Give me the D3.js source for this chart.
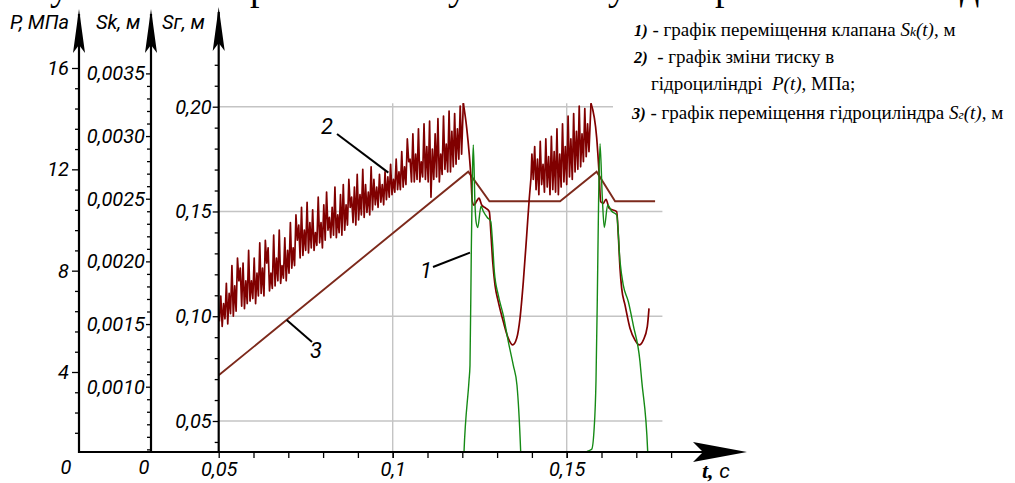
<!DOCTYPE html>
<html><head><meta charset="utf-8">
<script src="https://cdn.jsdelivr.net/npm/d3@7"></script>
<style>body{margin:0;background:#fff}svg{display:block}</style>
</head><body>
<script>
// ---------- data ----------
const pMajor = [4, 8, 12, 16];
const pLabels = ["4", "8", "12", "16"];
const skMajor = [0.0010, 0.0015, 0.0020, 0.0025, 0.0030, 0.0035];
const skLabels = ["0,0010", "0,0015", "0,0020", "0,0025", "0,0030", "0,0035"];
const sgMajor = [0.05, 0.10, 0.15, 0.20];
const sgLabels = ["0,05", "0,10", "0,15", "0,20"];
const tMajor = [0.05, 0.1, 0.15];
const tLabels = ["0,05", "0,1", "0,15"];
const tGrid = [0.1, 0.15];

// curve 2: P(t), MPa — noisy build-up 1 (samples every 0.0004 s from 0.0502 s)
const pNoiseStep = 0.0004;
const pNoise1Start = 0.0502;
const pNoise1 = [
 6.0, 7.0, 5.8, 6.7, 6.1, 7.5, 5.9, 7.1, 6.3, 8.2,
 6.2, 7.4, 6.4, 8.5, 7.6, 8.1, 6.6, 8.3, 6.5, 7.6,
 6.7, 8.8, 6.8, 7.6, 6.9, 8.5, 6.7, 7.9, 7.0, 9.1,
 7.1, 8.1, 7.0, 9.2, 8.3, 8.9, 7.2, 7.9, 7.3, 9.4,
 7.4, 8.5, 7.6, 9.6, 7.5, 8.2, 7.7, 9.3, 7.6, 8.8,
 7.9, 9.9, 8.1, 8.9, 8.2, 10.2, 9.2, 9.8, 8.5, 10.5,
 8.6, 9.6, 8.8, 10.7, 8.7, 9.9, 8.9, 10.4, 8.8, 9.5,
 9.0, 10.9, 9.1, 9.9, 8.9, 10.6, 9.2, 11.1, 9.6, 10.1,
 9.3, 10.5, 9.4, 11.3, 9.3, 10.2, 9.5, 11.0, 9.4, 11.4,
 9.6, 10.6, 9.8, 11.6, 10.5, 10.9, 9.9, 11.3, 9.8, 11.8,
 10.0, 11.0, 10.2, 12.0, 10.1, 11.4, 10.3, 11.1, 10.2, 12.1,
 10.4, 11.6, 10.6, 11.3, 10.5, 11.8, 10.7, 11.4, 10.6, 11.9,
 10.8, 11.7, 10.9, 12.2, 11.0, 11.6, 11.1, 12.4, 11.2, 11.9,
 11.2, 12.7, 11.3, 12.1, 11.4, 13.2, 12.3, 12.4, 11.5, 13.4,
 11.5, 12.6, 11.6, 13.6, 11.5, 12.3, 11.7, 13.8, 11.6, 12.9,
 11.5, 13.9, 10.9, 12.8, 11.6, 13.4, 11.7, 14.0, 11.5, 12.6,
 11.8, 14.1, 12.0, 13.0, 11.9, 14.3, 11.9, 13.5, 12.1, 14.2,
 12.2, 13.6, 12.4, 14.5, 12.6
];
const pSmooth1T = [0.12029, 0.12127, 0.12201, 0.1225, 0.12288, 0.12336, 0.12414, 0.1248, 0.12558, 0.12681, 0.12776, 0.12825, 0.12874, 0.1294, 0.13034, 0.13178, 0.13322, 0.13448, 0.13563, 0.13658, 0.13753, 0.13851, 0.13925, 0.13974];
const pSmooth1  = [14.61, 13.63, 12.57, 11.66, 10.72, 10.59, 10.75, 10.86, 10.59, 10.46, 10.33, 9.41, 8.35, 7.43, 6.78, 5.99, 5.33, 5.07, 5.33, 6.12, 7.56, 9.41, 10.86, 11.66];
const pNoise2Start = 0.1400;
const pNoise2 = [
 12.6, 11.6, 12.9, 11.2, 12.4, 11.0, 13.1, 11.4, 12.2, 11.1,
 13.2, 11.3, 12.5, 11.0, 13.3, 11.2, 12.7, 11.1, 13.6, 11.0,
 12.6, 11.3, 13.8, 11.5, 12.9, 11.4, 14.1, 11.7, 13.2, 11.6,
 14.2, 11.9, 13.5, 12.0, 14.5, 12.1, 13.4, 12.3, 14.4, 12.5,
 13.8, 12.7
];
const pSmooth2T = [0.15698, 0.15862, 0.15928, 0.15977, 0.16052, 0.16129, 0.16224, 0.16437, 0.16483, 0.16532, 0.1658, 0.16675, 0.16819, 0.16963, 0.17086, 0.17201, 0.17316, 0.17365];
const pSmooth2  = [14.61, 13.24, 11.91, 10.72, 10.66, 10.82, 10.46, 10.33, 9.41, 8.09, 7.30, 6.65, 5.73, 5.26, 5.07, 5.26, 5.79, 6.51];

// curve 1: Sk(t), m (valve displacement)
const skT = [0.1190, 0.1199, 0.12049, 0.12193, 0.12221, 0.12259, 0.12293, 0.12316, 0.12365, 0.12394, 0.12443, 0.12537, 0.12603, 0.12718, 0.12816, 0.12874, 0.12920, 0.13034, 0.13178, 0.13322, 0.13466, 0.13572, 0.13678, 0.1372, 0.1380,
             0.1550, 0.15575, 0.15718, 0.15785, 0.15842, 0.15879, 0.15917, 0.15957, 0.16023, 0.16080, 0.16178, 0.16293, 0.16437, 0.16532, 0.16626, 0.16770, 0.16914, 0.17106, 0.17155, 0.17328, 0.1737, 0.1745];
const skV = [0, 0, 0.00048, 0.00105, 0.00117, 0.00209, 0.00273, 0.00293, 0.00245, 0.00232, 0.00227, 0.00244, 0.00240, 0.00235, 0.00232, 0.00213, 0.00192, 0.00173, 0.00157, 0.00136, 0.00117, 0.00101, 0.00048, 0.00015, 0,
             0, 0.00048, 0.00050, 0.00065, 0.00105, 0.00169, 0.00249, 0.00294, 0.00251, 0.00227, 0.00245, 0.00240, 0.00237, 0.00200, 0.00181, 0.00168, 0.00149, 0.00120, 0.00105, 0.00048, 0.00015, 0];

// curve 3: Sг(t), m (cylinder displacement)
const sgT = [0.05, 0.1217, 0.1278, 0.1481, 0.1586, 0.1639, 0.1754];
const sgV = [0.0718, 0.169, 0.1549, 0.1549, 0.169, 0.1549, 0.1549];

// ---------- drawing ----------
const W = 1015, H = 483, baseY = 452;
const numFont = 'Roboto, "DejaVu Sans", sans-serif';
const serif = '"Liberation Serif", "Times New Roman", serif';

const svg = d3.select("body").append("svg").attr("width", W).attr("height", H);

const x = d3.scaleLinear().domain([0.05, 0.15]).range([218.7, 566.7]);
const yP = d3.scaleLinear().domain([4, 16]).range([372, 68]);
const ySk = d3.scaleLinear().domain([0.001, 0.0035]).range([386.7, 73.4]);
const ySg = d3.scaleLinear().domain([0.05, 0.20]).range([421, 106.7]);
const axP = 79, axSk = 151, axSg = x(0.05);

// top cut-off document line (only descenders visible, as in the source image)
const topG = svg.append("g").attr("font-family", serif).attr("font-size", 38).attr("fill", "#000");
[["у", 50], ["р", 250], ["у", 448], ["у", 608], ["р", 715], ["д", 960]].forEach(([c, px]) =>
  topG.append("text").attr("x", px).attr("y", 0).text(c));

// grid
const grid = svg.append("g").attr("stroke", "#c4c4c4").attr("stroke-width", 1.4);
grid.selectAll("line.h").data(sgMajor).join("line")
  .attr("x1", axSg).attr("x2", x(0.1775)).attr("y1", d => ySg(d)).attr("y2", d => ySg(d));
grid.selectAll("line.v").data(tGrid).join("line")
  .attr("x1", d => x(d)).attr("x2", d => x(d)).attr("y1", ySg(0.2017)).attr("y2", baseY);

// curves
const clip = svg.append("clipPath").attr("id", "plotclip");
clip.append("rect").attr("x", axSg).attr("y", 0).attr("width", W - axSg).attr("height", baseY - 0.5);
const plot = svg.append("g").attr("clip-path", "url(#plotclip)");

const n1 = pNoise1.map((v, i) => [pNoise1Start + i * pNoiseStep, v]);
const s1 = pSmooth1T.map((t, i) => [t, pSmooth1[i]]);
const n2 = pNoise2.map((v, i) => [pNoise2Start + i * pNoiseStep, v]);
const s2 = pSmooth2T.map((t, i) => [t, pSmooth2[i]]);
const sgPts = sgT.map((t, i) => [t, sgV[i]]);
const skPts = skT.map((t, i) => [t, skV[i]]);

plot.append("path").datum(sgPts)
  .attr("d", d3.line().x(d => x(d[0])).y(d => ySg(d[1])))
  .attr("fill", "none").attr("stroke", "#7d2a1c").attr("stroke-width", 1.9);

const pLin = d3.line().x(d => x(d[0])).y(d => yP(d[1]));
const pSm = d3.line().x(d => x(d[0])).y(d => yP(d[1])).curve(d3.curveMonotoneX);
const pStyle = p => p.attr("fill", "none").attr("stroke", "#800000").attr("stroke-width", 1.7).attr("stroke-linejoin", "round");
plot.append("path").datum(n1.concat([s1[0]])).attr("d", pLin).call(pStyle);
plot.append("path").datum(s1).attr("d", pSm).call(pStyle);
plot.append("path").datum([s1[s1.length - 1]].concat(n2, [s2[0]])).attr("d", pLin).call(pStyle);
plot.append("path").datum(s2).attr("d", pSm).call(pStyle);

plot.append("path").datum(skPts)
  .attr("d", d3.line().x(d => x(d[0])).y(d => ySk(d[1])).curve(d3.curveMonotoneX))
  .attr("fill", "none").attr("stroke", "#158a15").attr("stroke-width", 1.4);

// legend mask + legend
svg.append("rect").attr("x", 613).attr("y", 14).attr("width", W - 613).attr("height", 120).attr("fill", "#fff");
const leg = svg.append("g").attr("font-family", serif).attr("font-size", 19).attr("fill", "#000");
function legLine(px, py, parts) {
  const t = leg.append("text").attr("x", px).attr("y", py).attr("xml:space", "preserve");
  parts.forEach(p => {
    const s = t.append("tspan").text(p[0]);
    if (p[1] === "bi") s.attr("font-weight", "bold").attr("font-style", "italic").attr("font-size", 16.5);
    if (p[1] === "i") s.attr("font-style", "italic");
    if (p[1] === "sub") s.attr("font-style", "italic").attr("font-size", 13.5);
  });
}
legLine(634, 36, [["1)", "bi"], [" - графік переміщення клапана "], ["S", "i"], ["k", "sub"], ["(t)", "i"], [", м"]]);
legLine(634, 63, [["2)", "bi"], ["  - графік зміни тиску в"]]);
legLine(651, 90, [["гідроциліндрі  "], ["P(t)", "i"], [", МПа;"]]);
legLine(632, 119, [["3)", "bi"], [" - графік переміщення гідроциліндра "], ["S", "i"], ["г", "sub"], ["(t)", "i"], [", м"]]);

// axes
function styleAxis(g) {
  g.select(".domain").remove();
  g.selectAll("line").attr("stroke", "#000").attr("stroke-width", 1.3);
  g.selectAll("text").attr("font-family", numFont).attr("font-style", "italic")
    .attr("font-size", 20).attr("fill", "#000");
}
function vAxis(scale, xPos, major, labels, minor, size, pad) {
  svg.append("g").attr("transform", `translate(${xPos},0)`)
    .call(d3.axisLeft(scale).tickValues(minor).tickSize(4).tickFormat("")).call(styleAxis);
  svg.append("g").attr("transform", `translate(${xPos},0)`)
    .call(d3.axisLeft(scale).tickValues(major).tickSize(size).tickPadding(pad)
      .tickFormat((d, i) => labels[i])).call(styleAxis);
}
const near = (a, b) => Math.abs(a - b) < 1e-9;
vAxis(yP, axP, pMajor, pLabels, d3.range(1.6, 16.01, 0.8).filter(v => !pMajor.some(m => near(m, v))), 7, 3);
vAxis(ySk, axSk, skMajor, skLabels, d3.range(0.0005, 0.00351, 0.0001).filter(v => !skMajor.some(m => near(m, v))), 5, 1);
vAxis(ySg, axSg, sgMajor, sgLabels, d3.range(0.04, 0.2201, 0.01).filter(v => !sgMajor.some(m => near(m, v))), 6, 1);

svg.append("g").attr("transform", `translate(0,${baseY})`)
  .call(d3.axisBottom(x).tickValues(d3.range(0.06, 0.1801, 0.01)).tickSize(6).tickFormat("")).call(styleAxis);
svg.append("g").attr("transform", `translate(0,${baseY})`)
  .call(d3.axisBottom(x).tickValues(tMajor).tickSize(6).tickPadding(4).tickFormat((d, i) => tLabels[i])).call(styleAxis);

// axis lines + arrows
const axes = svg.append("g").attr("stroke", "#000").attr("stroke-width", 2.2).attr("fill", "none");
[[axP, 14], [axSk, 14], [axSg, 12]].forEach(([ax, top]) =>
  axes.append("line").attr("x1", ax).attr("x2", ax).attr("y1", baseY + 1).attr("y2", top));
axes.append("line").attr("x1", axP - 1).attr("x2", 740).attr("y1", baseY).attr("y2", baseY);
const arr = svg.append("g").attr("fill", "#000");
[[axP, 9], [axSk, 9], [axSg, 7]].forEach(([ax, tip]) =>
  arr.append("path").attr("d", `M${ax},${tip} L${ax + 6},${tip + 44} L${ax},${tip + 36} L${ax - 6},${tip + 44} Z`));
arr.append("path").attr("d", `M747,${baseY} L693,${baseY - 10} L703,${baseY} L693,${baseY + 10} Z`);

// axis titles and origin labels
const lab = svg.append("g").attr("font-family", numFont).attr("font-style", "italic").attr("font-size", 20).attr("fill", "#000");
lab.append("text").attr("x", 10).attr("y", 29).text("P, МПа");
lab.append("text").attr("x", 96).attr("y", 29).text("Sk, м");
lab.append("text").attr("x", 162).attr("y", 29).text("Sг, м");
lab.append("text").attr("x", 66).attr("y", 474).attr("text-anchor", "middle").text("0");
lab.append("text").attr("x", 144).attr("y", 474).attr("text-anchor", "middle").text("0");
const tl = svg.append("text").attr("x", 702).attr("y", 478).attr("fill", "#000");
tl.append("tspan").attr("font-family", serif).attr("font-weight", "bold").attr("font-style", "italic").attr("font-size", 22).text("t, ");
tl.append("tspan").attr("font-family", numFont).attr("font-style", "italic").attr("font-size", 21).text("с");

// curve annotations
const ann = svg.append("g");
ann.append("line").attr("x1", 337).attr("y1", 134).attr("x2", x(0.09874)).attr("y2", yP(11.87)).attr("stroke", "#000").attr("stroke-width", 2);
ann.append("line").attr("x1", 433).attr("y1", 267).attr("x2", x(0.12221)).attr("y2", ySk(0.00207)).attr("stroke", "#000").attr("stroke-width", 2);
ann.append("line").attr("x1", 312).attr("y1", 342).attr("x2", x(0.06954)).attr("y2", ySg(0.09818)).attr("stroke", "#000").attr("stroke-width", 2);
const annT = ann.append("g").attr("font-family", numFont).attr("font-style", "italic").attr("font-size", 22).attr("fill", "#000");
annT.append("text").attr("x", 321).attr("y", 134).text("2");
annT.append("text").attr("x", 420).attr("y", 278).text("1");
annT.append("text").attr("x", 310).attr("y", 358).text("3");
</script>
</body></html>
